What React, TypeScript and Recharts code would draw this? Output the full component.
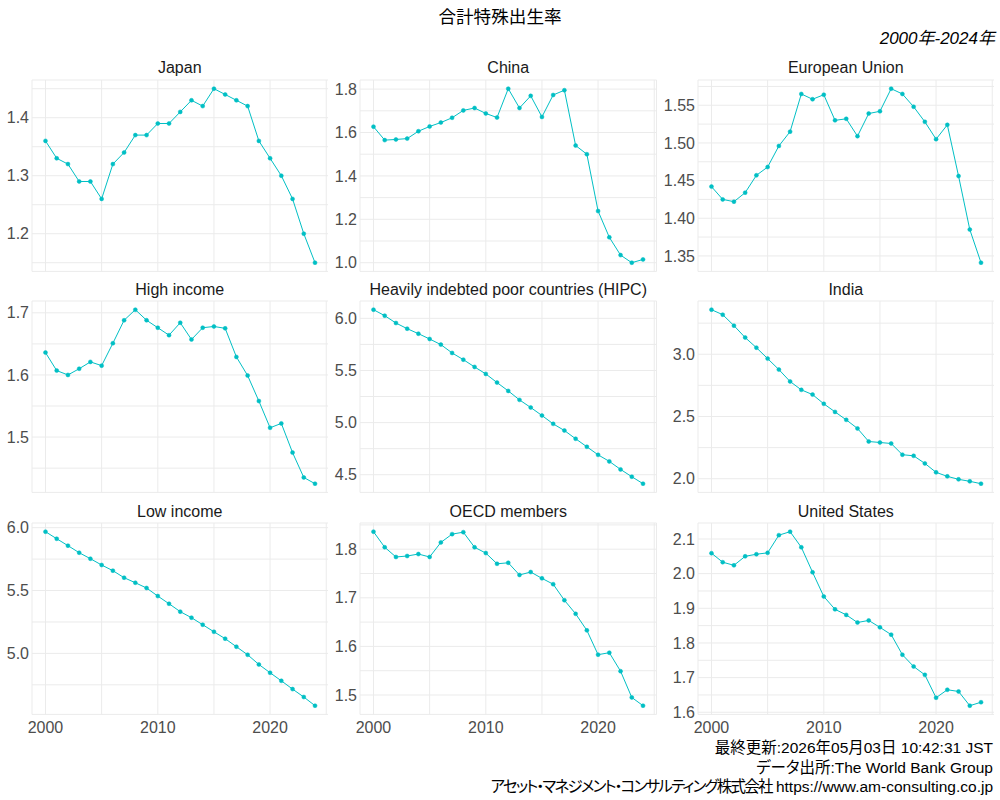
import React from "react";
import { LineChart, Line, XAxis, YAxis, CartesianGrid, ReferenceLine } from "recharts";

const years = [
  2000, 2001, 2002, 2003, 2004, 2005, 2006, 2007, 2008, 2009, 2010, 2011, 2012,
  2013, 2014, 2015, 2016, 2017, 2018, 2019, 2020, 2021, 2022, 2023, 2024,
];

const japan = [
  1.36, 1.33, 1.32, 1.29, 1.29, 1.26, 1.32, 1.34, 1.37, 1.37, 1.39, 1.39, 1.41,
  1.43, 1.42, 1.45, 1.44, 1.43, 1.42, 1.36, 1.33, 1.3, 1.26, 1.2, 1.15,
];
const china = [
  1.627, 1.565, 1.568, 1.572, 1.606, 1.628, 1.646, 1.668, 1.702, 1.713, 1.688,
  1.669, 1.802, 1.713, 1.769, 1.672, 1.773, 1.795, 1.54, 1.5, 1.238, 1.117,
  1.035, 1.0, 1.015,
];
const eu = [
  1.442, 1.425, 1.422, 1.434, 1.457, 1.468, 1.496, 1.515, 1.565, 1.558, 1.564,
  1.53, 1.532, 1.509, 1.539, 1.542, 1.572, 1.565, 1.548, 1.528, 1.505, 1.524,
  1.456, 1.385, 1.341,
];
const highIncome = [
  1.636, 1.607, 1.6, 1.61, 1.621, 1.615, 1.651, 1.688, 1.705, 1.688, 1.676,
  1.664, 1.684, 1.657, 1.676, 1.678, 1.675, 1.629, 1.599, 1.558, 1.515, 1.522,
  1.475, 1.435, 1.425,
];
const hipc = [
  6.083, 6.026, 5.955, 5.901, 5.853, 5.802, 5.748, 5.668, 5.604, 5.534, 5.467,
  5.384, 5.304, 5.218, 5.145, 5.068, 4.988, 4.924, 4.845, 4.768, 4.691, 4.628,
  4.551, 4.481, 4.414,
];
const india = [
  3.358, 3.318, 3.23, 3.134, 3.053, 2.965, 2.877, 2.781, 2.714, 2.676, 2.602,
  2.537, 2.473, 2.404, 2.299, 2.291, 2.283, 2.193, 2.184, 2.123, 2.051, 2.019,
  1.995, 1.979, 1.96,
];
const lowIncome = [
  5.968, 5.912, 5.857, 5.801, 5.753, 5.703, 5.658, 5.602, 5.562, 5.52, 5.456,
  5.395, 5.332, 5.284, 5.228, 5.172, 5.117, 5.053, 4.989, 4.912, 4.846, 4.782,
  4.716, 4.653, 4.584,
];
const oecd = [
  1.836, 1.804, 1.784, 1.786, 1.79, 1.784, 1.814, 1.831, 1.835, 1.804, 1.792,
  1.77, 1.772, 1.747, 1.753, 1.74, 1.728, 1.695, 1.667, 1.633, 1.583, 1.587,
  1.549, 1.495, 1.478,
];
const us = [
  2.059, 2.033, 2.024, 2.05, 2.056, 2.06, 2.111, 2.121, 2.076, 2.004, 1.934,
  1.897, 1.881, 1.859, 1.865, 1.845, 1.824, 1.766, 1.732, 1.708, 1.642, 1.665,
  1.66, 1.619, 1.629,
];

const xMajor = [2000, 2010, 2020];
const xMinor = [2005, 2015, 2025];

const panels = [
  { title: "Japan", values: japan, major: [1.2, 1.3, 1.4], minor: [1.15, 1.25, 1.35, 1.45], dec: 1 },
  { title: "China", values: china, major: [1.0, 1.2, 1.4, 1.6, 1.8], minor: [1.1, 1.3, 1.5, 1.7], dec: 1 },
  { title: "European Union", values: eu, major: [1.35, 1.4, 1.45, 1.5, 1.55], minor: [1.375, 1.425, 1.475, 1.525, 1.575], dec: 2 },
  { title: "High income", values: highIncome, major: [1.5, 1.6, 1.7], minor: [1.45, 1.55, 1.65], dec: 1 },
  { title: "Heavily indebted poor countries (HIPC)", values: hipc, major: [4.5, 5.0, 5.5, 6.0], minor: [4.75, 5.25, 5.75], dec: 1 },
  { title: "India", values: india, major: [2.0, 2.5, 3.0], minor: [2.25, 2.75, 3.25], dec: 1 },
  { title: "Low income", values: lowIncome, major: [5.0, 5.5, 6.0], minor: [4.75, 5.25, 5.75], dec: 1 },
  { title: "OECD members", values: oecd, major: [1.5, 1.6, 1.7, 1.8], minor: [1.55, 1.65, 1.75, 1.85], dec: 1 },
  { title: "United States", values: us, major: [1.6, 1.7, 1.8, 1.9, 2.0, 2.1], minor: [1.65, 1.75, 1.85, 1.95, 2.05], dec: 1 },
];

const COL_LEFT = [31.5, 360, 697.5];
const ROW_TOP = [79.6, 301.2, 523];
const PW = 296.5;
const PH = 191.4;
const AXIS_W = 60;
const PAD = 10; // room around the plot so edge tick labels are not clipped
const TEAL = "#00BFC4";
const GRID = "#EBEBEB";
const AXIS_TEXT = "#4D4D4D";

function Panel({ p, col, row }) {
  const showX = row === 2;
  const min = Math.min(...p.values);
  const max = Math.max(...p.values);
  const pad = (max - min) * 0.05;
  const data = years.map((y, i) => ({ year: y, value: p.values[i] }));
  const left = COL_LEFT[col];
  const top = ROW_TOP[row];

  return (
    <>
      <div
        style={{
          position: "absolute",
          left,
          width: PW,
          top: top - 21.5,
          textAlign: "center",
          fontSize: 16,
          lineHeight: "20px",
          color: "#1A1A1A",
          whiteSpace: "nowrap",
        }}
      >
        {p.title}
      </div>
      <div style={{ position: "absolute", left: left - AXIS_W, top: top - PAD, fontSize: 16 }}>
        <LineChart
          width={AXIS_W + PW}
          height={PH + PAD + (showX ? 28 : PAD)}
          data={data}
          margin={{ top: PAD, right: 0, bottom: showX ? 0 : PAD, left: 0 }}
          style={{ fontSize: 16 }}
        >
          <CartesianGrid stroke={GRID} strokeWidth={1} />
          {xMinor.map((x) => (
            <ReferenceLine key={"x" + x} x={x} stroke={GRID} strokeWidth={1} />
          ))}
          {p.minor.map((y) => (
            <ReferenceLine key={"y" + y} y={y} stroke={GRID} strokeWidth={1} ifOverflow="discard" />
          ))}
          <XAxis
            dataKey="year"
            type="number"
            domain={[1998.8, 2025.2]}
            ticks={xMajor}
            interval={0}
            hide={!showX}
            height={28}
            axisLine={false}
            tickLine={false}
            tickSize={0}
            tickMargin={7}
            fontSize={16}
            tick={{ fill: AXIS_TEXT, fontSize: 16 }}
            allowDataOverflow
          />
          <YAxis
            type="number"
            domain={[min - pad, max + pad]}
            ticks={p.major}
            interval={0}
            width={AXIS_W}
            axisLine={false}
            tickLine={false}
            tickSize={0}
            tickMargin={3}
            fontSize={16}
            tick={{ fill: AXIS_TEXT, fontSize: 16 }}
            tickFormatter={(v) => Number(v).toFixed(p.dec)}
            allowDataOverflow
          />
          <Line
            type="linear"
            dataKey="value"
            stroke={TEAL}
            strokeWidth={1}
            dot={{ r: 2, fill: TEAL, stroke: TEAL, strokeWidth: 0.5 }}
            isAnimationActive={false}
          />
        </LineChart>
      </div>
    </>
  );
}

export default function App() {
  return (
    <div
      style={{
        position: "absolute",
        left: 0,
        top: 0,
        width: 1000,
        height: 800,
        background: "#FFFFFF",
        fontFamily: '"Liberation Sans", Arial, "Noto Sans CJK JP", sans-serif',
        overflow: "hidden",
      }}
    >
      <div
        style={{
          position: "absolute",
          left: 0,
          width: 1000,
          top: 6,
          textAlign: "center",
          fontSize: 17.6,
          lineHeight: "22px",
          color: "#000",
        }}
      >
        合計特殊出生率
      </div>
      <div
        style={{
          position: "absolute",
          right: 5,
          top: 28,
          fontSize: 17,
          lineHeight: "22px",
          fontStyle: "italic",
          color: "#000",
        }}
      >
        2000年-2024年
      </div>
      {panels.map((p, i) => (
        <Panel key={p.title} p={p} col={i % 3} row={Math.floor(i / 3)} />
      ))}
      <div
        style={{
          position: "absolute",
          right: 7,
          top: 738,
          textAlign: "right",
          fontSize: 15.5,
          lineHeight: "19.5px",
          color: "#000",
          whiteSpace: "nowrap",
          fontFeatureSettings: '"palt"',
        }}
      >
        <div>最終更新:2026年05月03日 10:42:31 JST</div>
        <div>データ出所:The World Bank Group</div>
        <div>
          <span style={{ letterSpacing: "-1.8px" }}>アセット・マネジメント・コンサルティング株式会社</span>{" "}
          https://www.am-consulting.co.jp
        </div>
      </div>
    </div>
  );
}
